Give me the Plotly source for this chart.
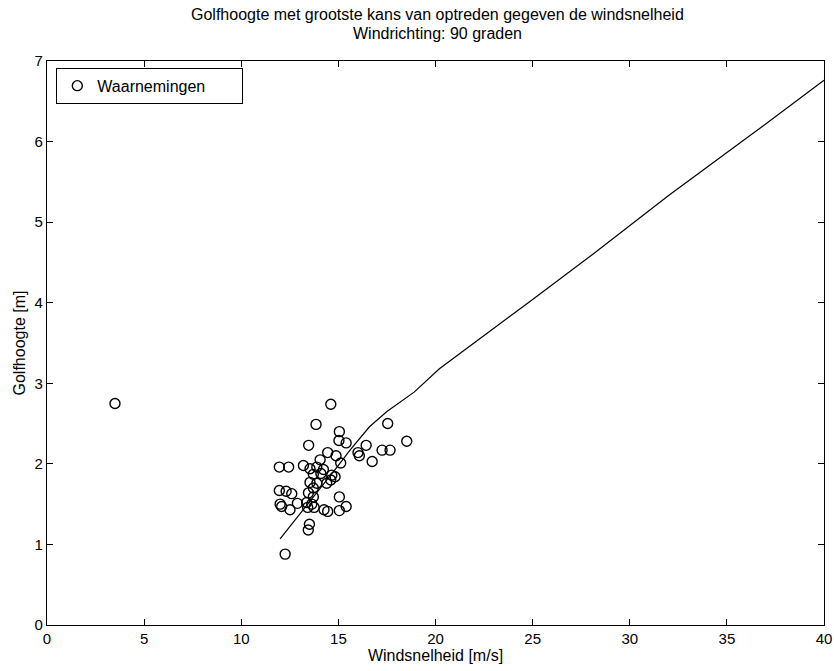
import plotly.graph_objects as go

# Observations (wind speed m/s, wave height m)
obs_wind = [3.5, 14.61, 13.85, 17.54, 15.05, 15.03, 15.40, 18.52, 13.47, 16.43, 17.25,
            17.66, 16.01, 16.08, 16.74, 14.45, 14.88, 14.06, 15.12, 11.96, 12.44,
            13.20, 13.54, 13.89, 14.23, 14.10, 13.71, 14.66, 14.83, 14.61, 14.40,
            13.89, 13.54, 13.71, 13.46, 11.96, 12.31, 12.60, 13.71, 15.05, 12.00,
            12.08, 12.89, 13.37, 13.63, 13.42, 13.75, 12.51, 14.26, 14.45, 15.05,
            15.40, 13.51, 13.45, 12.26]
obs_wave = [2.75, 2.74, 2.49, 2.50, 2.40, 2.29, 2.26, 2.28, 2.23, 2.23, 2.17,
            2.17, 2.14, 2.10, 2.03, 2.14, 2.10, 2.05, 2.01, 1.96, 1.96,
            1.98, 1.94, 1.96, 1.93, 1.88, 1.87, 1.86, 1.84, 1.80, 1.76,
            1.76, 1.77, 1.70, 1.64, 1.67, 1.66, 1.63, 1.59, 1.59, 1.50,
            1.47, 1.51, 1.52, 1.50, 1.46, 1.46, 1.43, 1.43, 1.41, 1.42,
            1.47, 1.25, 1.18, 0.88]

# Most probable wave height curve
curve_wind = [12.0, 13.0, 14.0, 15.0, 15.6, 16.6, 17.5, 18.9, 20.2, 22.0, 25.0, 28.2, 32.0, 36.0, 40.0]
curve_wave = [1.07, 1.37, 1.67, 1.98, 2.17, 2.46, 2.65, 2.89, 3.18, 3.50, 4.04, 4.62, 5.33, 6.04, 6.76]

x_ticks = [0, 5, 10, 15, 20, 25, 30, 35, 40]
y_ticks = [0, 1, 2, 3, 4, 5, 6, 7]

title_lines = ["Golfhoogte met grootste kans van optreden gegeven de windsnelheid",
               "Windrichting: 90 graden"]

FONT = "Liberation Sans, Arial, Helvetica, sans-serif"

fig = go.Figure()
fig.add_trace(go.Scatter(
    x=curve_wind, y=curve_wave, mode="lines",
    line=dict(color="black", width=1.2), showlegend=False, hoverinfo="skip"))
fig.add_trace(go.Scatter(
    x=obs_wind, y=obs_wave, mode="markers", name="Waarnemingen       ",
    marker=dict(symbol="circle-open", size=10, color="black", line=dict(width=1.4))))

fig.update_layout(
    width=834, height=671,
    paper_bgcolor="white", plot_bgcolor="white",
    margin=dict(l=47, r=10, t=61, b=46, autoexpand=False),
    font=dict(family=FONT, size=15, color="black"),
    legend=dict(x=0.012, y=0.988, xanchor="left", yanchor="top",
                bordercolor="black", borderwidth=1, bgcolor="white",
                font=dict(family=FONT, size=16, color="black"),
                itemwidth=30, tracegroupgap=0),
)
for txt, yp in zip(title_lines, [1.0833, 1.0496]):
    fig.add_annotation(text=txt, x=0.503, y=yp, xref="paper", yref="paper",
                       xanchor="center", yanchor="middle", showarrow=False,
                       font=dict(family=FONT, size=16, color="black"))

fig.update_xaxes(
    range=[0, 40], tickvals=x_ticks, ticktext=[str(v) for v in x_ticks],
    showgrid=False, zeroline=False, showline=True, linecolor="black", linewidth=1.2,
    mirror="ticks", ticks="inside", ticklen=6, tickcolor="black", automargin=False,
    tickfont=dict(family=FONT, size=15, color="black"),
    title=dict(text="Windsnelheid [m/s]", standoff=2, font=dict(family=FONT, size=16)))
fig.update_yaxes(
    range=[0, 7], tickvals=y_ticks, ticktext=[str(v) for v in y_ticks],
    showgrid=False, zeroline=False, showline=True, linecolor="black", linewidth=1.2,
    mirror="ticks", ticks="inside", ticklen=6, tickcolor="black", automargin=False,
    tickfont=dict(family=FONT, size=15, color="black"),
    title=dict(text="Golfhoogte [m]", standoff=4, font=dict(family=FONT, size=16)))

fig.write_html("out.html")
